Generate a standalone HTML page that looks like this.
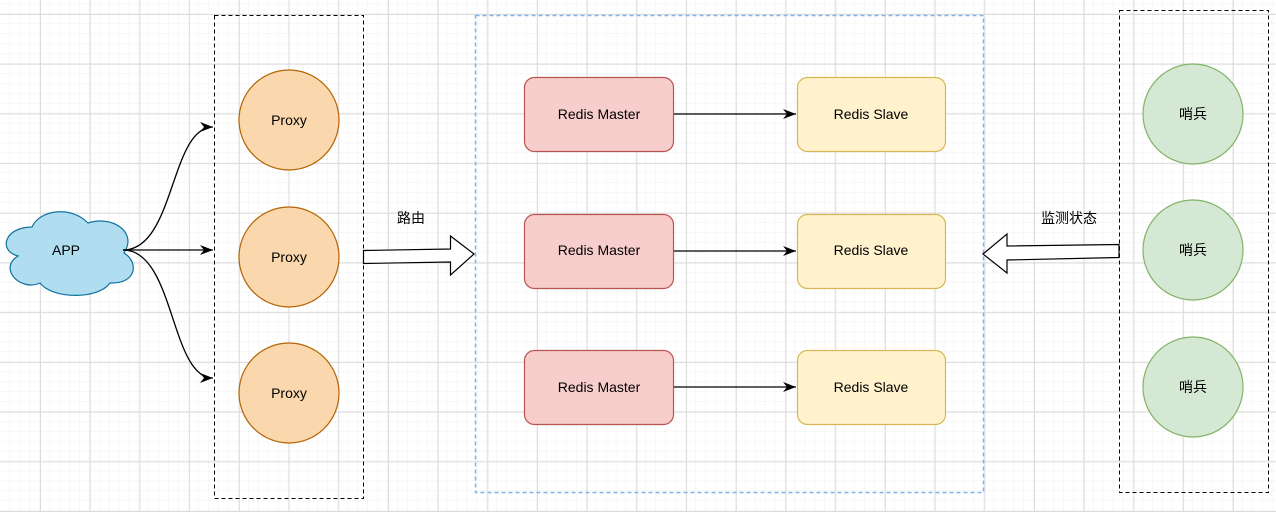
<!DOCTYPE html>
<html><head><meta charset="utf-8"><style>
html,body{margin:0;padding:0;background:#fff}
svg{display:block}
text{font-family:"Liberation Sans","Noto Sans CJK SC",sans-serif;font-size:14px;fill:#000}
</style></head><body>
<svg width="1276" height="512" viewBox="0 0 1276 512" xmlns="http://www.w3.org/2000/svg">
<defs>
<pattern id="mi" x="0" y="4" width="9.94" height="9.94" patternUnits="userSpaceOnUse">
<path d="M9.94 0V9.94M0 9.94H9.94" stroke="#f0f0f0" stroke-width="1" fill="none"/></pattern>
<pattern id="ma" x="-9.7" y="14" width="49.7" height="49.7" patternUnits="userSpaceOnUse">
<path d="M0.5 0V49.7M0 0.5H49.7" stroke="#dcdcdc" stroke-width="1" fill="none"/></pattern>
<marker id="ah" markerWidth="14" markerHeight="14" refX="13" refY="7" orient="auto" markerUnits="userSpaceOnUse">
<path d="M0 2L13 7L0 12L4 7Z" fill="#000"/></marker>
</defs>
<rect width="1276" height="512" fill="url(#mi)"/>
<rect width="1276" height="512" fill="url(#ma)"/>

<rect x="214.5" y="15.5" width="149" height="483" fill="none" stroke="#000" stroke-dasharray="4 3"/>
<rect x="475.5" y="15.5" width="508" height="477" fill="none" stroke="#7eb4ea" stroke-width="1.5" stroke-dasharray="4 3"/>
<rect x="1119.5" y="10.5" width="149" height="482" fill="none" stroke="#000" stroke-dasharray="4 3"/>

<!-- cloud -->
<path d="M32 227 C4 227 -2 251 18 256 C-2 268 20 292 40 283 C52 299 98 300 110 283 C137 284 139 262 124 253 C138 232 112 215 88 223 C72 206 40 209 32 227Z" fill="#b1ddf0" stroke="#10739e" stroke-width="1.2"/>
<text x="66" y="255" text-anchor="middle">APP</text>

<path d="M123 250 C175 250 170 127 213 127" fill="none" stroke="#000" stroke-width="1.3" marker-end="url(#ah)"/>
<path d="M123 250 L213 250" fill="none" stroke="#000" stroke-width="1.3" marker-end="url(#ah)"/>
<path d="M123 250 C175 250 170 378 213 378" fill="none" stroke="#000" stroke-width="1.3" marker-end="url(#ah)"/>

<g fill="#fad7ac" stroke="#b46504" stroke-width="1.2">
<circle cx="289" cy="120" r="50"/><circle cx="289" cy="257" r="50"/><circle cx="289" cy="393" r="50"/></g>
<text x="289" y="125" text-anchor="middle">Proxy</text>
<text x="289" y="262" text-anchor="middle">Proxy</text>
<text x="289" y="398" text-anchor="middle">Proxy</text>

<path d="M363.5 250.5 L450.5 249 L450.5 236 L474 254 L450.5 275 L450.5 262 L363.5 263.5Z" fill="#fff" stroke="#000" stroke-width="1.2"/>
<text x="411" y="223" text-anchor="middle">路由</text>

<g stroke-width="1.2">
<rect x="524.5" y="77.5" width="149" height="74" rx="10" fill="#f8cecc" stroke="#b85450"/>
<rect x="524.5" y="214.5" width="149" height="74" rx="10" fill="#f8cecc" stroke="#b85450"/>
<rect x="524.5" y="350.5" width="149" height="74" rx="10" fill="#f8cecc" stroke="#b85450"/>
<rect x="797.5" y="77.5" width="148" height="74" rx="10" fill="#fff2cc" stroke="#d6b656"/>
<rect x="797.5" y="214.5" width="148" height="74" rx="10" fill="#fff2cc" stroke="#d6b656"/>
<rect x="797.5" y="350.5" width="148" height="74" rx="10" fill="#fff2cc" stroke="#d6b656"/>
</g>
<text x="599" y="119" text-anchor="middle">Redis Master</text>
<text x="599" y="255" text-anchor="middle">Redis Master</text>
<text x="599" y="392" text-anchor="middle">Redis Master</text>
<text x="871" y="119" text-anchor="middle">Redis Slave</text>
<text x="871" y="255" text-anchor="middle">Redis Slave</text>
<text x="871" y="392" text-anchor="middle">Redis Slave</text>
<g stroke="#000" stroke-width="1.3" marker-end="url(#ah)">
<path d="M674 114 L796 114"/><path d="M674 251 L796 251"/><path d="M674 387 L796 387"/></g>

<path d="M1119 244.5 L1007 246 L1007 234 L983 254 L1007 273 L1007 260 L1119 257.5Z" fill="#fff" stroke="#000" stroke-width="1.2"/>
<text x="1069" y="223" text-anchor="middle">监测状态</text>

<g fill="#d5e8d4" stroke="#82b366" stroke-width="1.2">
<circle cx="1193" cy="114" r="50"/><circle cx="1193" cy="250" r="50"/><circle cx="1193" cy="387" r="50"/></g>
<text x="1193" y="119" text-anchor="middle">哨兵</text>
<text x="1193" y="255" text-anchor="middle">哨兵</text>
<text x="1193" y="392" text-anchor="middle">哨兵</text>
</svg>
</body></html>
